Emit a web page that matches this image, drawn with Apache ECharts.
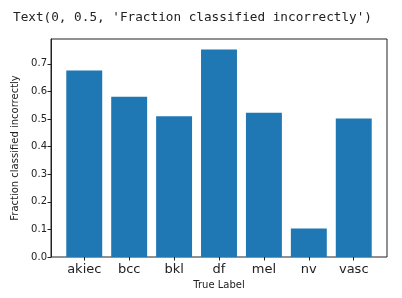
<!DOCTYPE html>
<html>
<head>
<meta charset="utf-8">
<script src="https://cdn.jsdelivr.net/npm/echarts@6/dist/echarts.min.js"></script>
<style>html,body{margin:0;padding:0;background:#fff;}#c{width:402px;height:298px;}</style>
</head>
<body>
<div id="c"></div>
<script>
const categories = ['akiec', 'bcc', 'bkl', 'df', 'mel', 'nv', 'vasc'];
const fractionIncorrect = [0.676, 0.581, 0.510, 0.752, 0.523, 0.103, 0.502];
const yTicks = [0.0, 0.1, 0.2, 0.3, 0.4, 0.5, 0.6, 0.7];
const headerText = "Text(0, 0.5, 'Fraction classified incorrectly')";

const yMax = 0.79;
const chart = echarts.init(document.getElementById('c'), null, {renderer: 'canvas'});
chart.setOption({
  animation: false,
  backgroundColor: '#fff',
  title: {
    text: headerText, left: 8, top: 6,
    textStyle: {fontFamily: 'DejaVu Sans Mono', fontSize: 12.7, fontWeight: 'normal', color: '#222'}
  },
  grid: [
    {left: 51, top: 39, width: 336, height: 218, show: true, borderColor: '#222', borderWidth: 1, backgroundColor: 'transparent'},
    {left: 61.8, top: 39, width: 314.4, height: 218}
  ],
  xAxis: [
    {gridIndex: 0, type: 'value', min: 0, max: 1, show: false},
    {gridIndex: 1, type: 'category', data: categories,
     axisLine: {show: false},
     axisTick: {show: true, alignWithLabel: true, length: 3.5, lineStyle: {color: '#222'}},
     axisLabel: {fontFamily: 'DejaVu Sans', fontSize: 13, color: '#222', margin: 6},
     name: 'True Label', nameLocation: 'middle', nameGap: 23,
     nameTextStyle: {fontFamily: 'DejaVu Sans', fontSize: 10, color: '#222'}}
  ],
  yAxis: [
    {gridIndex: 0, type: 'value', min: 0, max: yMax, interval: 0.1,
     axisLine: {show: true, lineStyle: {color: '#222'}},
     axisTick: {show: true, length: 3.5, lineStyle: {color: '#222'}},
     splitLine: {show: false},
     axisLabel: {fontFamily: 'DejaVu Sans', fontSize: 10, color: '#222', margin: 4, showMaxLabel: false,
       formatter: v => (yTicks.some(t => Math.abs(t - v) < 1e-9) ? v.toFixed(1) : '')},
     name: 'Fraction classified incorrectly', nameLocation: 'middle', nameGap: 28,
     nameTextStyle: {fontFamily: 'DejaVu Sans', fontSize: 10, color: '#222'}},
    {gridIndex: 1, type: 'value', min: 0, max: yMax, show: false}
  ],
  series: [{
    type: 'bar', xAxisIndex: 1, yAxisIndex: 1,
    data: fractionIncorrect, barWidth: '80%',
    itemStyle: {color: '#1f77b4'}
  }]
});
</script>
</body>
</html>
